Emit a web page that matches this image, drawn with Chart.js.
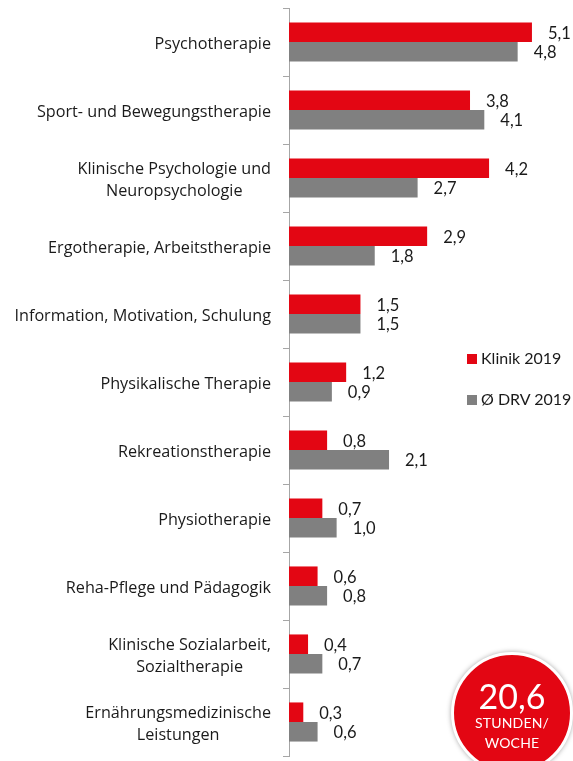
<!DOCTYPE html>
<html lang="de">
<head>
<meta charset="utf-8">
<script src="https://cdn.jsdelivr.net/npm/chart.js@4.4.1/dist/chart.umd.min.js"></script>
<style>
    html, body { margin: 0; padding: 0; background: #fff; }
    #wrap { position: relative; width: 573px; height: 761px; overflow: hidden; font-family: Lato, 'Open Sans', sans-serif; }
    #chart { position: absolute; left: 0; top: 0; }
    .legend-item { position: absolute; left: 467px; font-size: 16px; color: #1a1a1a; line-height: 16px; white-space: nowrap; }
    .legend-item i { display: inline-block; width: 10px; height: 10px; margin-right: 4px; vertical-align: 0px; }
    #badge {
        position: absolute; left: 451px; top: 652px; width: 116px; height: 116px;
        border-radius: 50%; background: #e30613; border: 3px solid #fff;
        box-shadow: 0 0 5px rgba(0,0,0,0.35);
        color: #fff; text-align: center;
    }
    #badge .big { font-size: 34px; line-height: 34px; margin-top: 24px; }
    #badge .small { font-size: 14px; line-height: 20px; letter-spacing: 0.2px; }
</style>
</head>
<body>
<div id="wrap">
    <canvas id="chart" width="573" height="761"></canvas>
    <div class="legend-item" style="top: 350px;"><i style="background:#e30613"></i>Klinik 2019</div>
    <div class="legend-item" style="top: 391px;"><i style="background:#808080"></i>Ø DRV 2019</div>
    <div id="badge">
        <div class="big">20,6</div>
        <div class="small">STUNDEN/</div>
        <div class="small">WOCHE</div>
    </div>
</div>
<script>
// ================= DATA =================
const categories = [
    ['Psychotherapie'],
    ['Sport- und Bewegungstherapie'],
    ['Klinische Psychologie und', 'Neuropsychologie'],
    ['Ergotherapie, Arbeitstherapie'],
    ['Information, Motivation, Schulung'],
    ['Physikalische Therapie'],
    ['Rekreationstherapie'],
    ['Physiotherapie'],
    ['Reha-Pflege und Pädagogik'],
    ['Klinische Sozialarbeit,', 'Sozialtherapie'],
    ['Ernährungsmedizinische', 'Leistungen']
];
const klinik2019 = [5.1, 3.8, 4.2, 2.9, 1.5, 1.2, 0.8, 0.7, 0.6, 0.4, 0.3];
const drv2019 = [4.8, 4.1, 2.7, 1.8, 1.5, 0.9, 2.1, 1.0, 0.8, 0.7, 0.6];
const seriesNames = ['Klinik 2019', 'Ø DRV 2019'];

const COLORS = { red: '#e30613', gray: '#808080', text: '#1a1a1a', axis: '#a6a6a6' };
const FONT = 'Lato, "Open Sans", sans-serif';

// Category labels: right-aligned block, lines centered inside it
const categoryLabels = {
    id: 'categoryLabels',
    afterDraw(chart) {
        const ctx = chart.ctx;
        const y = chart.scales.y;
        const rightEdge = 271;
        const lineH = 22;
        ctx.save();
        ctx.font = '16.2px "Open Sans", sans-serif';
        ctx.fillStyle = COLORS.text;
        ctx.textAlign = 'center';
        ctx.textBaseline = 'middle';
        categories.forEach((lines, i) => {
            const cy = y.getPixelForValue(i) + 2;
            const blockW = Math.max(...lines.map(l => ctx.measureText(l).width));
            const cx = rightEdge - blockW / 2;
            const startY = cy - (lines.length - 1) * lineH / 2;
            lines.forEach((l, k) => ctx.fillText(l, cx, startY + k * lineH));
        });
        ctx.restore();
    }
};

// Value labels right of every bar
const valueLabels = {
    id: 'valueLabels',
    afterDatasetsDraw(chart) {
        const ctx = chart.ctx;
        ctx.save();
        ctx.font = '16.5px ' + FONT;
        ctx.fillStyle = COLORS.text;
        ctx.textAlign = 'left';
        ctx.textBaseline = 'middle';
        chart.data.datasets.forEach((ds, di) => {
            chart.getDatasetMeta(di).data.forEach((bar, i) => {
                const txt = ds.data[i].toFixed(1).replace('.', ',');
                ctx.fillText(txt, bar.x + 16, bar.y + 1);
            });
        });
        ctx.restore();
    }
};

// ================= CHART =================
new Chart(document.getElementById('chart'), {
    type: 'bar',
    data: {
        labels: categories,
        datasets: [{
            label: seriesNames[0],
            data: klinik2019,
            backgroundColor: COLORS.red,
            categoryPercentage: 0.575,
            barPercentage: 1
        }, {
            label: seriesNames[1],
            data: drv2019,
            backgroundColor: COLORS.gray,
            categoryPercentage: 0.575,
            barPercentage: 1
        }]
    },
    options: {
        indexAxis: 'y',
        responsive: false,
        animation: false,
        layout: { padding: { top: 8, bottom: 5, right: 22, left: 0 } },
        plugins: { legend: { display: false }, tooltip: { enabled: false } },
        scales: {
            x: { display: false, min: 0, max: 5.5 },
            y: {
                ticks: { display: false },
                grid: { drawOnChartArea: false, drawTicks: true, tickLength: 6, color: COLORS.axis },
                border: { color: COLORS.axis },
                afterFit(scale) { scale.width = 289; }
            }
        }
    },
    plugins: [categoryLabels, valueLabels]
});
</script>
</body>
</html>
